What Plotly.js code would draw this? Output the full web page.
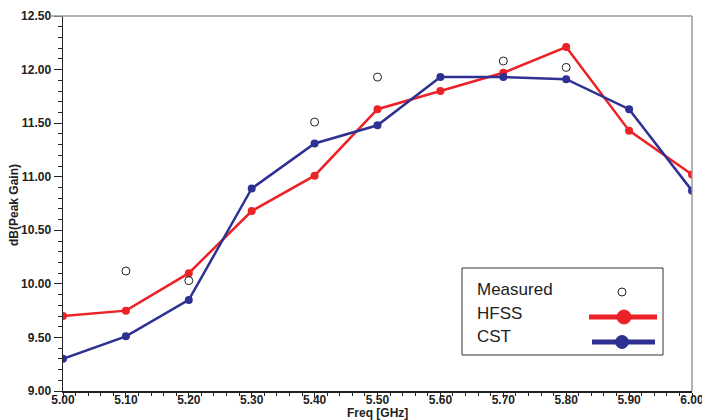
<!DOCTYPE html>
<html><head><meta charset="utf-8">
<script src="https://cdn.plot.ly/plotly-3.0.1.min.js"></script>
<style>html,body{margin:0;padding:0;background:#fff}#c{width:702px;height:420px}</style>
</head><body><div id="c"></div>
<script>
const freq = [5.00,5.10,5.20,5.30,5.40,5.50,5.60,5.70,5.80,5.90,6.00];
const hfss = [9.70,9.75,10.10,10.68,11.01,11.63,11.80,11.97,12.21,11.43,11.02];
const cst  = [9.30,9.51,9.85,10.89,11.31,11.48,11.93,11.93,11.91,11.63,10.87];
const measFreq = [5.10,5.20,5.40,5.50,5.70,5.80];
const measured = [10.12,10.03,11.51,11.93,12.08,12.02];
const xTicks = [5.00,5.10,5.20,5.30,5.40,5.50,5.60,5.70,5.80,5.90,6.00];
const yTicks = [9.00,9.50,10.00,10.50,11.00,11.50,12.00,12.50];
const legendNames = ["Measured","HFSS","CST"];
const xTitle = 'Freq [GHz]', yTitle = 'dB(Peak Gain)';

const RED = '#ec2227', BLUE = '#2e3192';
const L = 63, R = 692, T = 16, B = 391;
const px = x => (x - L) / (R - L);
const py = y => (B - y) / (B - T);
const FONT = 'Liberation Sans, Arial, sans-serif';

const traces = [
  {x: freq, y: hfss, name: legendNames[1], mode: 'lines+markers',
   line: {color: RED, width: 2.5}, marker: {color: RED, size: 8}},
  {x: freq, y: cst, name: legendNames[2], mode: 'lines+markers',
   line: {color: BLUE, width: 2.5}, marker: {color: BLUE, size: 8}},
  {x: measFreq, y: measured, name: legendNames[0], mode: 'markers',
   marker: {symbol: 'circle-open', color: '#222', size: 8, line: {width: 1}}},
  // invisible trace carrying the tick-label axis
  {x: [xTicks[0]], y: [yTicks[0]], xaxis: 'x2', yaxis: 'y', mode: 'markers',
   marker: {opacity: 0}, hoverinfo: 'skip', showlegend: false}
];

const shapes = [
  {type:'line', xref:'paper', yref:'paper', x0:-0.02, x1:1, y0:1, y1:1, line:{color:'#999', width:1.5}},
  {type:'line', xref:'paper', yref:'paper', x0:1, x1:1, y0:0, y1:1, line:{color:'#999', width:1.5}},
  {type:'rect', xref:'paper', yref:'paper', x0:px(462), x1:px(663), y0:py(355), y1:py(268),
   line:{color:'#333', width:1}, fillcolor:'#fff'},
  {type:'line', xref:'paper', yref:'paper', x0:px(589), x1:px(657), y0:py(317), y1:py(317), line:{color:RED, width:5}},
  {type:'line', xref:'paper', yref:'paper', x0:px(592), x1:px(655), y0:py(342), y1:py(342), line:{color:BLUE, width:5}},
  {type:'circle', xref:'paper', yref:'paper', xsizemode:'pixel', ysizemode:'pixel',
   xanchor:px(624), yanchor:py(317), x0:-7, x1:7, y0:-7, y1:7, fillcolor:RED, line:{color:RED, width:1}},
  {type:'circle', xref:'paper', yref:'paper', xsizemode:'pixel', ysizemode:'pixel',
   xanchor:px(622), yanchor:py(342), x0:-6.5, x1:6.5, y0:-6.5, y1:6.5, fillcolor:BLUE, line:{color:BLUE, width:1}},
  {type:'circle', xref:'paper', yref:'paper', xsizemode:'pixel', ysizemode:'pixel',
   xanchor:px(622), yanchor:py(292), x0:-4, x1:4, y0:-4, y1:4, fillcolor:'rgba(0,0,0,0)', line:{color:'#222', width:1}}
];

const annotations = legendNames.map((n, i) => ({
  xref:'paper', yref:'paper', x:px(475), y:py([289,313,336][i]), xanchor:'left', yanchor:'middle',
  text:n, showarrow:false, font:{family:FONT, size:17, color:'#222'}
}));
annotations.push({xref:'paper', yref:'paper', x:px(378), y:py(413), xanchor:'center', yanchor:'middle',
  text:xTitle, showarrow:false, font:{family:FONT, size:12, color:'#222', weight:'bold'}});
annotations.push({xref:'paper', yref:'paper', x:px(14), y:py(205), xanchor:'center', yanchor:'middle', textangle:-90,
  text:yTitle, showarrow:false, font:{family:FONT, size:12, color:'#222', weight:'bold'}});

const layout = {
  width: 702, height: 420,
  margin: {l: L, r: 702 - R, t: T, b: 420 - B},
  paper_bgcolor: '#fff', plot_bgcolor: '#fff',
  showlegend: false,
  font: {family: FONT, color: '#222'},
  xaxis: {
    range: [5.0, 6.0], tickvals: xTicks, showticklabels: false,
    ticks: 'outside', ticklen: 5, tickcolor: '#222', showline: true, linecolor: '#222', linewidth: 1.5,
    showgrid: false, zeroline: false,
    minor: {dtick: 0.02, tick0: 5.0, ticks: 'outside', ticklen: 3, tickcolor: '#222', showgrid: false}
  },
  xaxis2: {
    overlaying: 'x', matches: 'x', anchor: 'y', side: 'bottom',
    range: [5.0, 6.0], tickvals: xTicks, ticktext: xTicks.map(v => v.toFixed(2)),
    ticks: '', showline: false, showgrid: false, zeroline: false, ticklabeloverflow: 'allow',
    tickfont: {family: FONT, size: 12, color: '#222', weight: 'bold'}
  },
  yaxis: {
    range: [9.0, 12.5], tickvals: yTicks, ticktext: yTicks.map(v => v.toFixed(2)),
    ticks: 'outside', ticklen: 8, tickcolor: '#222', showline: true, linecolor: '#222', linewidth: 1.5,
    showgrid: false, zeroline: false, ticklabeloverflow: 'allow',
    tickfont: {family: FONT, size: 12, color: '#222', weight: 'bold'},
    minor: {dtick: 0.1, tick0: 9.0, ticks: 'outside', ticklen: 4, tickcolor: '#222', showgrid: false}
  },
  shapes: shapes,
  annotations: annotations
};

Plotly.newPlot('c', traces, layout, {displayModeBar: false, staticPlot: true});
</script></body></html>
